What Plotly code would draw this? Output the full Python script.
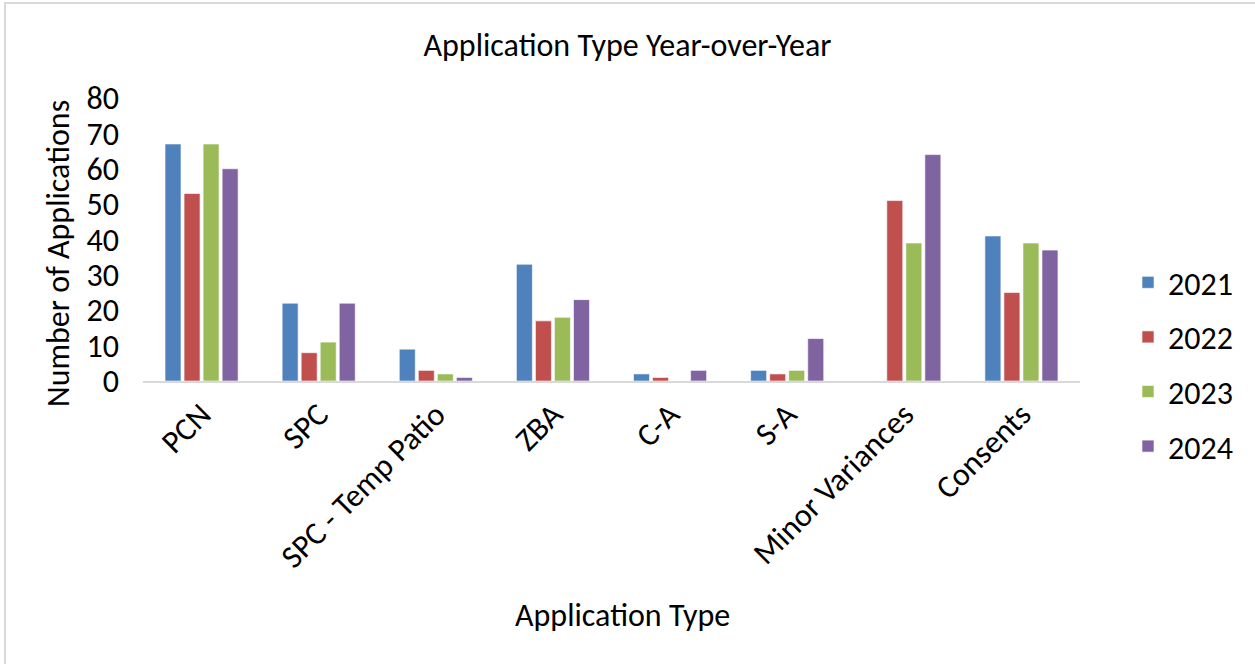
import plotly.graph_objects as go

categories = ["PCN", "SPC", "SPC - Temp Patio", "ZBA", "C-A", "S-A", "Minor Variances", "Consents"]
years = ["2021", "2022", "2023", "2024"]
v2021 = [67, 22, 9, 33, 2, 3, 0, 41]
v2022 = [53, 8, 3, 17, 1, 2, 51, 25]
v2023 = [67, 11, 2, 18, 0, 3, 39, 39]
v2024 = [60, 22, 1, 23, 3, 12, 64, 37]
series = [v2021, v2022, v2023, v2024]
colors = ["#4F81BD", "#C0504D", "#9BBB59", "#8064A2"]

W, H = 1255, 664
L, R, T, B = 143, 175, 98, 283
FONT = "Carlito, Lato, sans-serif"

fig = go.Figure()
for name, vals, col in zip(years, series, colors):
    fig.add_trace(go.Bar(
        x=categories, y=vals, name=name, legendgroup=name,
        marker=dict(color=col, line=dict(color="rgba(255,255,255,0.6)", width=1)),
    ))

pw = W - L - R
ph = H - T - B
def px_x(p):
    return (p - L) / pw
def px_y(p):
    return (H - B - p) / ph

fig.update_layout(
    width=W, height=H,
    margin=dict(l=L, r=R, t=T, b=B, autoexpand=False),
    paper_bgcolor="white", plot_bgcolor="white",
    font=dict(family=FONT, color="#000000", size=32),
    barmode="group", bargap=0.35, bargroupgap=0.16,
    title=dict(text="Application Type Year-over-Year", x=0.5, xanchor="center",
               y=1 - 45 / H, yanchor="middle", font=dict(size=32, family=FONT)),
    legend=dict(x=px_x(1128), xanchor="left", y=px_y(255), yanchor="top",
                font=dict(size=32, family=FONT), tracegroupgap=10,
                itemwidth=30, bgcolor="rgba(0,0,0,0)"),
    xaxis=dict(showline=True, linecolor="#D9D9D9", linewidth=2, ticks="",
               tickangle=-45, tickfont=dict(size=32), showgrid=False),
    yaxis=dict(range=[0, 80], dtick=10, showgrid=False, zeroline=False,
               showline=False, ticks="", tickfont=dict(size=32),
               ticklabelstandoff=23),
    showlegend=True,
    annotations=[
        dict(text="Application Type", xref="paper", yref="paper",
             x=px_x(622), y=px_y(615), xanchor="center", yanchor="middle",
             showarrow=False, font=dict(size=32, family=FONT)),
        dict(text="Number of Applications", xref="paper", yref="paper",
             x=px_x(59), y=px_y(254), xanchor="center", yanchor="middle",
             textangle=-90, showarrow=False, font=dict(size=32, family=FONT)),
    ],
    shapes=[
        dict(type="rect", xref="paper", yref="paper",
             x0=px_x(5), x1=px_x(W + 5), y0=px_y(H + 5), y1=px_y(3),
             line=dict(color="#D9D9D9", width=2), fillcolor="rgba(0,0,0,0)",
             layer="below"),
    ],
)

fig.write_html("out.html")
